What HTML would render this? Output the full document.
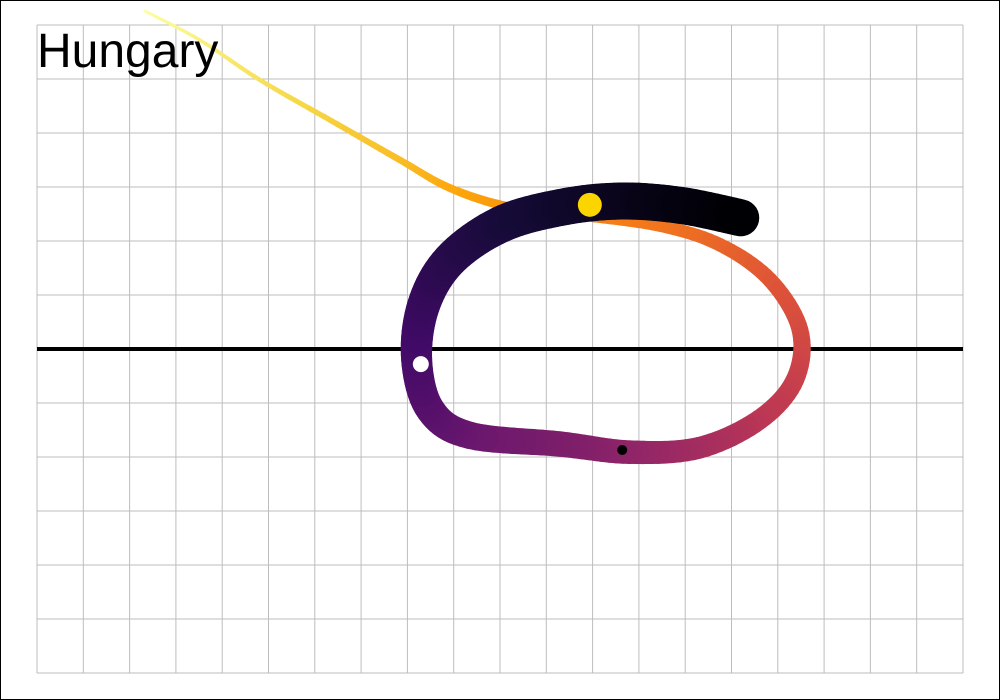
<!DOCTYPE html>
<html><head><meta charset="utf-8"><style>
html,body{margin:0;padding:0;background:#fff}
svg{display:block}
</style></head><body>
<svg id="chart" width="1000" height="700">
<rect x="0.5" y="0.5" width="999" height="699" fill="#fff" stroke="#000" stroke-width="1"/>
<g id="grid"></g>
<line x1="37" x2="963" y1="349" y2="349" stroke="#000" stroke-width="4"/>
<g id="path"></g>
<g id="markers"></g>
<text x="37" y="67" font-family="Liberation Sans, sans-serif" font-size="48" fill="#000">Hungary</text>
</svg>
<script>
const xs=[2.33,3.52,4.82,6.33,7.84,8.92,10.2,11.7,13.46,14.75,15.83,16.48,16.37,15.6,14.3,12.8,11.3,9.35,8.5,8.2,8.35,8.92,10.0,11.3,12.6,13.9,15.2];
const ys=[6.26,5.72,4.98,4.24,3.5,2.98,2.63,2.48,2.28,1.93,1.28,0.35,-0.57,-1.31,-1.83,-1.91,-1.76,-1.6,-1.13,-0.2,0.81,1.65,2.3,2.62,2.74,2.66,2.43];
const markerX=[11.94,8.29,12.64];
const markerY=[2.67,-0.28,-1.87];
const markerR=[12,8,5];
const markerC=['#fcd500','#ffffff','#000000'];
const NS='http://www.w3.org/2000/svg';
const X=v=>37+v*46.3, Y=v=>349-v*54;
const grid=document.getElementById('grid');
for(let i=0;i<=20;i++){const l=document.createElementNS(NS,'line');


l.setAttribute('x1',X(i));l.setAttribute('x2',X(i));l.setAttribute('y1',25);l.setAttribute('y2',673);l.setAttribute('stroke','#bdbdbd');grid.appendChild(l);}
for(let j=-6;j<=6;j++){const l=document.createElementNS(NS,'line');


l.setAttribute('y1',Y(j));l.setAttribute('y2',Y(j));l.setAttribute('x1',37);l.setAttribute('x2',963);l.setAttribute('stroke','#bdbdbd');grid.appendChild(l);}
const stops=['#000004','#160b39','#420a68','#6a176e','#932667','#bc3754','#dd513a','#f37819','#fca50a','#f6d746','#fcffa4'];
function hex(h){return [1,3,5].map(i=>parseInt(h.substr(i,2),16));}
function inferno(t){t=Math.max(0,Math.min(1,t));const p=t*10,i=Math.min(9,Math.floor(p)),f=p-i;const a=hex(stops[i]),b=hex(stops[i+1]);return 'rgb('+a.map((v,k)=>Math.round(v+(b[k]-v)*f)).join(',')+')';}
const pts=[];const n=xs.length;
for(let i=0;i<n-1;i++){const p0=[X(xs[Math.max(0,i-1)]),Y(ys[Math.max(0,i-1)])],p1=[X(xs[i]),Y(ys[i])],p2=[X(xs[i+1]),Y(ys[i+1])],p3=[X(xs[Math.min(n-1,i+2)]),Y(ys[Math.min(n-1,i+2)])];
for(let s=0;s<10;s++){const t=s/10,t2=t*t,t3=t2*t;
const c=k=>0.5*((2*p1[k])+(-p0[k]+p2[k])*t+(2*p0[k]-5*p1[k]+4*p2[k]-p3[k])*t2+(-p0[k]+3*p1[k]-3*p2[k]+p3[k])*t3);
pts.push([c(0),c(1)]);}}
pts.push([X(xs[n-1]),Y(ys[n-1])]);
const g=document.getElementById('path');const m=pts.length;
for(let i=0;i<m-1;i++){const u=i/(m-2);
const f=u<0.5?u:u+0.8*(u-0.5)*(1-u);
const l=document.createElementNS(NS,'line');


l.setAttribute('x1',pts[i][0]);l.setAttribute('y1',pts[i][1]);l.setAttribute('x2',pts[i+1][0]);l.setAttribute('y2',pts[i+1][1]);
l.setAttribute('stroke',inferno(1-f));l.setAttribute('stroke-width',3+34*Math.pow(Math.min(1,u/0.85),1.3));l.setAttribute('stroke-linecap','round');g.appendChild(l);}
const mk=document.getElementById('markers');
for(let i=0;i<markerX.length;i++){const c=document.createElementNS(NS,'circle');


c.setAttribute('cx',X(markerX[i]));c.setAttribute('cy',Y(markerY[i]));c.setAttribute('r',markerR[i]);c.setAttribute('fill',markerC[i]);mk.appendChild(c);}
</script>
</body></html>
